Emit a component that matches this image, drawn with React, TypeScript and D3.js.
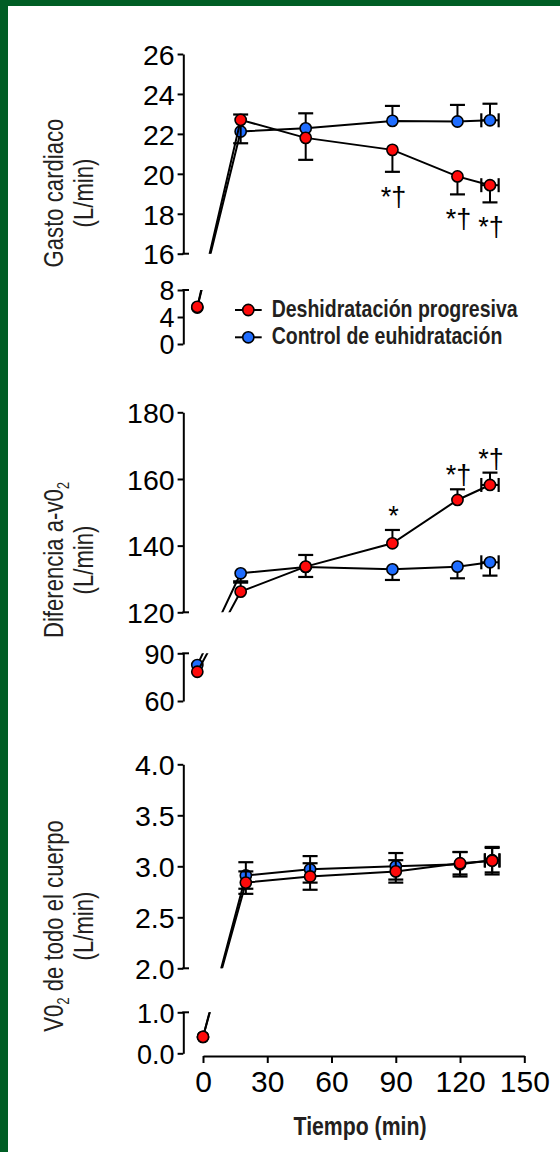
import React, { useEffect, useRef } from "react";
import * as d3 from "d3";

// tiempos (min) y ticks
const times = [0, 20, 50, 90, 120, 135];
const xTicks = [0, 30, 60, 90, 120, 150];

// Gasto cardiaco (L/min)
const gcDeshid = [5.5, 22.7, 21.8, 21.2, 19.87, 19.43];
const gcDeshidErr = [0, 1.17, 1.1, 1.1, 0.9, 0.86];
const gcControl = [5.4, 22.12, 22.28, 22.65, 22.62, 22.68];
const gcControlErr = [0, 0.85, 0.75, 0.75, 0.83, 0.83];
const gcMarks = ["", "", "", "*†", "*†", "*†"];
const gcTicksUp = [16, 18, 20, 22, 24, 26];
const gcTicksLo = [0, 4, 8];

// Diferencia a-vO2
const avDeshid = [78.4, 126.2, 133.7, 140.7, 153.7, 158.2];
const avDeshidErr = [0, 2.7, 3.5, 4, 3.2, 3.7];
const avControl = [82.6, 131.7, 133.6, 132.9, 133.7, 135.0];
const avControlErr = [0, 2.4, 3, 3.2, 3.5, 4];
const avMarks = ["", "", "", "*", "*†", "*†"];
const avTicksUp = [120, 140, 160, 180];
const avTicksLo = [60, 90];

// VO2 de todo el cuerpo
const voDeshid = [0.4, 2.84, 2.9, 2.95, 3.03, 3.055];
const voDeshidErr = [0, 0.11, 0.13, 0.11, 0.11, 0.135];
const voControl = [0.4, 2.91, 2.97, 3.0, 3.02, 3.06];
const voControlErr = [0, 0.13, 0.13, 0.13, 0.12, 0.12];
const voMarks = ["", "", "", "", "", ""];
const voTicksUp = [2, 2.5, 3, 3.5, 4];
const voTicksLo = [0, 1];

const timeErr = [0, 0, 0, 0, 0, 4];
const timeErrVo = [0, 0, 0, 0, 0, 3.4];

const legendLabels = ["Deshidratación progresiva", "Control de euhidratación"];
const xLabel = "Tiempo (min)";

const RED = "#ff0a0a";
const BLUE = "#1f6dff";
const GREEN = "#005e25";
const TXT = "#231f20";
const FONT = "'Liberation Sans', Arial, Helvetica, sans-serif";

const panels = [
  {
    id: "gc",
    up: [16, 26], upR: [253.7, 54], lo: [0, 8], loR: [344, 290],
    ticksUp: gcTicksUp, ticksLo: gcTicksLo, fmt: d3.format("d"),
    xR: [197.3, 522.5],
    red: gcDeshid, redErr: gcDeshidErr, redDir: -1,
    blue: gcControl, blueErr: gcControlErr, blueDir: 1,
    tErr: timeErr, marks: gcMarks, markDir: -1,
    labelY: 193, label1: ["Gasto cardiaco"], label2: "(L/min)",
  },
  {
    id: "av",
    up: [120, 180], upR: [612.3, 412.3], lo: [60, 90], loR: [701, 653.3],
    ticksUp: avTicksUp, ticksLo: avTicksLo, fmt: d3.format("d"),
    xR: [197.3, 522.5],
    red: avDeshid, redErr: avDeshidErr, redDir: 1,
    blue: avControl, blueErr: avControlErr, blueDir: -1,
    tErr: timeErr, marks: avMarks, markDir: 1,
    labelY: 560, label1: ["Diferencia a-v0", "2", ""], label2: "(L/min)",
  },
  {
    id: "vo",
    up: [2, 4], upR: [968.3, 764.3], lo: [0, 1], loR: [1053.3, 1012.3],
    ticksUp: voTicksUp, ticksLo: voTicksLo, fmt: d3.format(".1f"),
    xR: [203, 524.3],
    red: voDeshid, redErr: voDeshidErr, redDir: 0,
    blue: voControl, blueErr: voControlErr, blueDir: 0,
    tErr: timeErrVo, marks: voMarks, markDir: 1,
    labelY: 926, label1: ["V0", "2", " de todo el cuerpo"], label2: "(L/min)",
  },
];

export default function App() {
  const ref = useRef<SVGSVGElement>(null);

  useEffect(() => {
    const svg = d3.select(ref.current).html(null);

    svg.append("rect").attr("width", 560).attr("height", 1152).attr("fill", "#fff");
    svg.append("rect").attr("width", 560).attr("height", 6).attr("fill", GREEN);
    svg.append("rect").attr("width", 8).attr("height", 1152).attr("fill", GREEN);

    const axisX = 183.3;
    const defs = svg.append("defs");

    panels.forEach((p) => {
      const x = d3.scaleLinear().domain([0, 150]).range(p.xR);
      const yUp = d3.scaleLinear().domain(p.up).range(p.upR);
      const yLo = d3.scaleLinear().domain(p.lo).range(p.loR);
      const y = (v: number) => (v > p.lo[1] ? yUp(v) : yLo(v));

      // y axes (upper and lower segment)
      [
        { s: yUp, t: p.ticksUp, capEnd: p.up[0], fs: 28.5 },
        { s: yLo, t: p.ticksLo, capEnd: p.lo[1], fs: 27 },
      ].forEach((a) => {
        const g = svg
          .append("g")
          .attr("transform", `translate(${axisX},0)`)
          .call(d3.axisLeft(a.s).tickValues(a.t).tickFormat(p.fmt as any).tickSize(5.7).tickSizeOuter(0).tickPadding(3));
        g.select(".domain").attr("stroke", "#000").attr("stroke-width", 2);
        g.selectAll(".tick line").attr("stroke", "#000").attr("stroke-width", 2);
        g.selectAll(".tick text")
          .attr("fill", "#000")
          .attr("font-family", FONT)
          .attr("font-size", a.fs)
          .attr("dy", "0.36em");
        g.append("line")
          .attr("x1", -1)
          .attr("x2", 5.7)
          .attr("y1", a.s(a.capEnd))
          .attr("y2", a.s(a.capEnd))
          .attr("stroke", "#000")
          .attr("stroke-width", 2);
      });

      // y label
      const lab = svg
        .append("g")
        .attr("transform", `translate(63,${p.labelY}) rotate(-90) scale(0.82,1)`)
        .attr("font-family", FONT)
        .attr("font-size", 27)
        .attr("fill", TXT)
        .attr("text-anchor", "middle");
      const t1 = lab.append("text");
      t1.append("tspan").text(p.label1[0]);
      if (p.label1.length > 1) {
        t1.append("tspan").attr("font-size", 16).attr("dy", 6).text(p.label1[1]);
        if (p.label1[2]) t1.append("tspan").attr("dy", -6).text(p.label1[2]);
      }
      lab.append("text").attr("y", 30).text(p.label2);

      // clip region for lines (axis break)
      const clip = defs.append("clipPath").attr("id", `clip-${p.id}`);
      clip.append("rect").attr("x", 0).attr("width", 560)
        .attr("y", p.upR[1] - 40).attr("height", p.upR[0] - p.upR[1] + 40);
      clip.append("rect").attr("x", 0).attr("width", 560)
        .attr("y", p.loR[1]).attr("height", p.loR[0] - p.loR[1] + 20);

      const series = [
        { v: p.blue, e: p.blueErr, dir: p.blueDir, c: BLUE },
        { v: p.red, e: p.redErr, dir: p.redDir, c: RED },
      ];

      series.forEach((s) => {
        const pts: [number, number][] = times.map((t, i) => [x(t), y(s.v[i])]);
        const g = svg.append("g");

        // error bars
        s.v.forEach((v, i) => {
          const e = s.e[i];
          const px = x(times[i]);
          if (e > 0) {
            const ends: number[] = [];
            if (s.dir >= 0) ends.push(y(v + e));
            if (s.dir <= 0) ends.push(y(v - e));
            ends.forEach((ye) => {
              g.append("line").attr("x1", px).attr("x2", px).attr("y1", y(v)).attr("y2", ye)
                .attr("stroke", "#000").attr("stroke-width", 2);
              g.append("line").attr("x1", px - 7.5).attr("x2", px + 7.5).attr("y1", ye).attr("y2", ye)
                .attr("stroke", "#000").attr("stroke-width", 2.2);
            });
          }
          const te = p.tErr[i];
          if (te > 0) {
            const py = y(v);
            g.append("line").attr("x1", x(times[i] - te)).attr("x2", x(times[i] + te))
              .attr("y1", py).attr("y2", py).attr("stroke", "#000").attr("stroke-width", 2);
            [times[i] - te, times[i] + te].forEach((tt) => {
              g.append("line").attr("x1", x(tt)).attr("x2", x(tt)).attr("y1", py - 7).attr("y2", py + 7)
                .attr("stroke", "#000").attr("stroke-width", 2.2);
            });
          }
        });

        g.append("path")
          .attr("d", d3.line()(pts))
          .attr("fill", "none")
          .attr("stroke", "#000")
          .attr("stroke-width", 2)
          .attr("clip-path", `url(#clip-${p.id})`);

        g.selectAll("circle")
          .data(pts)
          .enter()
          .append("circle")
          .attr("cx", (d) => d[0])
          .attr("cy", (d) => d[1])
          .attr("r", 5.6)
          .attr("fill", s.c)
          .attr("stroke", "#000")
          .attr("stroke-width", 1.6);
      });

      // significance marks
      p.marks.forEach((m, i) => {
        if (!m) return;
        const v = p.red[i];
        const e = p.redErr[i];
        const ty = p.markDir > 0 ? y(v + e) - 5 : y(v - e) + 34;
        svg.append("text")
          .attr("x", x(times[i]) + 1)
          .attr("y", ty)
          .attr("text-anchor", "middle")
          .attr("font-family", FONT)
          .attr("font-size", 27)
          .attr("fill", "#000")
          .text(m);
      });
    });

    // x axis
    const xb = d3.scaleLinear().domain([0, 150]).range(panels[2].xR);
    const gx = svg
      .append("g")
      .attr("transform", "translate(0,1056)")
      .call(d3.axisBottom(xb).tickValues(xTicks).tickSize(7).tickSizeOuter(0).tickPadding(8));
    gx.select(".domain").attr("stroke", "#000").attr("stroke-width", 2);
    gx.selectAll(".tick line").attr("stroke", "#000").attr("stroke-width", 2);
    gx.selectAll(".tick text").attr("fill", "#000").attr("font-family", FONT).attr("font-size", 30);

    svg.append("text")
      .attr("transform", "translate(360,1135) scale(0.85,1)")
      .attr("text-anchor", "middle")
      .attr("font-family", FONT)
      .attr("font-weight", "bold")
      .attr("font-size", 25)
      .attr("fill", TXT)
      .text(xLabel);

    // legend
    const legColors = [RED, BLUE];
    legendLabels.forEach((l, i) => {
      const ly = 310 + i * 27.3;
      const g = svg.append("g");
      g.append("line").attr("x1", 235).attr("x2", 261.7).attr("y1", ly).attr("y2", ly)
        .attr("stroke", "#000").attr("stroke-width", 2);
      g.append("circle").attr("cx", 248.3).attr("cy", ly).attr("r", 5.6)
        .attr("fill", legColors[i]).attr("stroke", "#000").attr("stroke-width", 1.6);
      g.append("text")
        .attr("transform", `translate(271.7,${ly + 6.5}) scale(0.83,1)`)
        .attr("font-family", FONT)
        .attr("font-weight", "bold")
        .attr("font-size", 23.5)
        .attr("fill", TXT)
        .text(l);
    });
  }, []);

  return (
    <svg
      ref={ref}
      width={560}
      height={1152}
      style={{ position: "absolute", left: 0, top: 0 }}
    ></svg>
  );
}
